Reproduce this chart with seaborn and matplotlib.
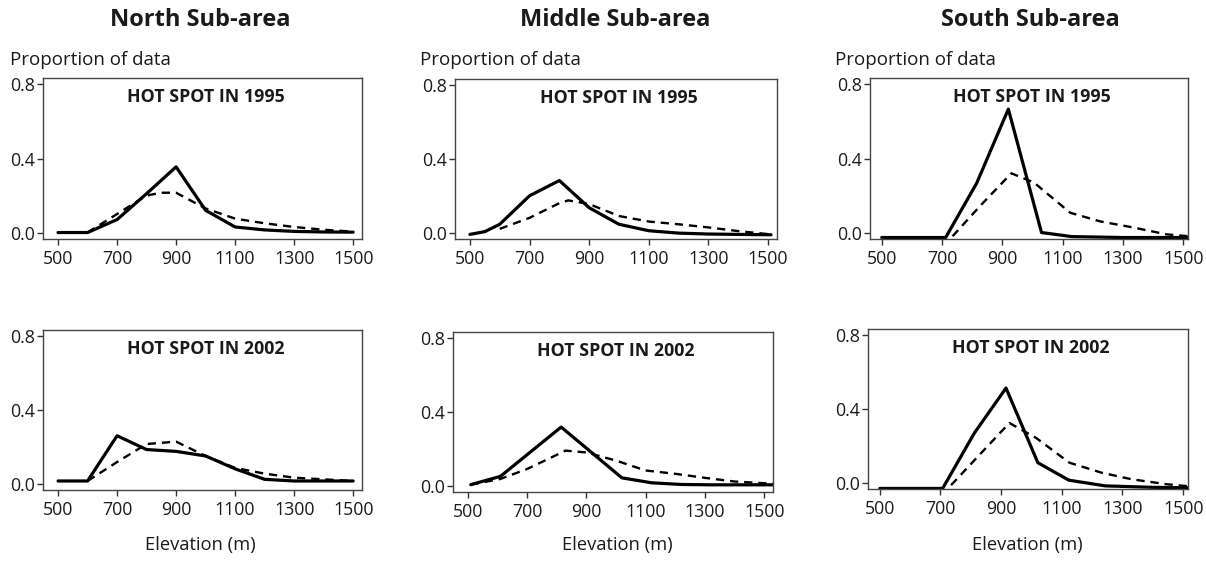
import matplotlib
matplotlib.use('agg')
import matplotlib.pyplot as plt
import seaborn as sns

# column titles and panel labels
areas = ['North Sub-area', 'Middle Sub-area', 'South Sub-area']
years = ['1995', '2002']
y_ticks = [0.0, 0.4, 0.8]
y_tick_labels = ['0.0', '0.4', '0.8']
x_ticks = [500, 700, 900, 1100, 1300, 1500]

# north sub-area (solid = hot spot, dashed = all data)
n95_hot_x = [500, 600, 700, 800, 900, 1000, 1100, 1200, 1300, 1400, 1500]
n95_hot_y = [0.0, 0.0, 0.07, 0.21, 0.355, 0.12, 0.03, 0.014, 0.006, 0.003, 0.002]
n95_all_x = [600, 700, 800, 850, 900, 1000, 1100, 1200, 1300, 1400, 1500]
n95_all_y = [0.0, 0.10, 0.20, 0.215, 0.215, 0.13, 0.075, 0.05, 0.03, 0.015, 0.005]

n02_hot_x = [500, 600, 700, 800, 900, 1000, 1100, 1200, 1300, 1400, 1500]
n02_hot_y = [0.014, 0.014, 0.26, 0.185, 0.175, 0.15, 0.08, 0.023, 0.014, 0.014, 0.014]
n02_all_x = [600, 700, 800, 900, 1000, 1100, 1200, 1300, 1400, 1500]
n02_all_y = [0.014, 0.117, 0.215, 0.228, 0.15, 0.085, 0.054, 0.032, 0.023, 0.014]

# middle sub-area
m95_hot_x = [500, 550, 600, 700, 800, 900, 1000, 1100, 1200, 1300, 1400, 1510]
m95_hot_y = [-0.01, 0.005, 0.045, 0.20, 0.283, 0.135, 0.045, 0.01, -0.003, -0.008, -0.01, -0.012]
m95_all_x = [600, 700, 800, 830, 900, 1000, 1100, 1200, 1300, 1400, 1510]
m95_all_y = [0.02, 0.08, 0.16, 0.175, 0.155, 0.09, 0.06, 0.045, 0.028, 0.008, -0.01]

m02_hot_x = [510, 610, 815, 1020, 1120, 1220, 1320, 1420, 1530]
m02_hot_y = [0.005, 0.05, 0.318, 0.042, 0.015, 0.006, 0.004, 0.004, 0.004]
m02_all_x = [510, 610, 700, 830, 900, 1000, 1100, 1200, 1300, 1400, 1530]
m02_all_y = [0.005, 0.036, 0.09, 0.19, 0.18, 0.136, 0.082, 0.064, 0.042, 0.022, 0.01]

# south sub-area
s95_hot_x = [500, 712, 815, 920, 1030, 1130, 1300, 1520]
s95_hot_y = [-0.027, -0.027, 0.267, 0.667, 0.0, -0.022, -0.027, -0.027]
s95_all_x = [735, 830, 930, 1005, 1125, 1225, 1335, 1445, 1520]
s95_all_y = [-0.02, 0.15, 0.32, 0.27, 0.107, 0.06, 0.027, -0.01, -0.02]

s02_hot_x = [500, 707, 812, 916, 1021, 1123, 1243, 1400, 1530]
s02_hot_y = [-0.032, -0.032, 0.27, 0.514, 0.108, 0.013, -0.018, -0.026, -0.029]
s02_all_x = [735, 927, 1015, 1125, 1230, 1330, 1445, 1530]
s02_all_y = [-0.014, 0.324, 0.243, 0.108, 0.054, 0.018, -0.009, -0.022]

series = {
    (0, 0): (n95_hot_x, n95_hot_y, n95_all_x, n95_all_y),
    (0, 1): (m95_hot_x, m95_hot_y, m95_all_x, m95_all_y),
    (0, 2): (s95_hot_x, s95_hot_y, s95_all_x, s95_all_y),
    (1, 0): (n02_hot_x, n02_hot_y, n02_all_x, n02_all_y),
    (1, 1): (m02_hot_x, m02_hot_y, m02_all_x, m02_all_y),
    (1, 2): (s02_hot_x, s02_hot_y, s02_all_x, s02_all_y),
}

sns.set_style('ticks')
plt.rcParams['font.family'] = ['Open Sans', 'DejaVu Sans']
ink = '#1a1a1a'

fig = plt.figure(figsize=(12.06, 5.61), dpi=100)
W, H = 1206.0, 561.0

# axes boxes in pixels: left, right, top, bottom
boxes = {
    (0, 0): (43, 362, 78, 239),
    (0, 1): (455, 777, 79, 239),
    (0, 2): (870, 1188, 78, 239),
    (1, 0): (43, 362, 330, 490),
    (1, 1): (453, 773, 332, 492),
    (1, 2): (868, 1188, 329, 489),
}
xlims = [(449, 1530), (450, 1530), (461, 1516)]

for (r, c), (l, rt, t, b) in boxes.items():
    ax = fig.add_axes([l / W, 1 - b / H, (rt - l) / W, (b - t) / H])
    hx, hy, ax_x, ax_y = series[(r, c)]
    sns.lineplot(x=hx, y=hy, ax=ax, color='black', linewidth=2.3, estimator=None)
    sns.lineplot(x=ax_x, y=ax_y, ax=ax, color='black', linewidth=1.7,
                 linestyle=(0, (3.5, 2.5)), estimator=None)
    ax.set_xlim(*xlims[c])
    ax.set_ylim(-0.035, 0.835)
    ax.set_xticks(x_ticks)
    ax.set_yticks(y_ticks)
    ax.set_yticklabels(y_tick_labels)
    ax.tick_params(labelsize=12.8, length=4, width=1, colors='#333333', labelcolor=ink)
    ax.tick_params(axis='x', pad=4)
    ax.tick_params(axis='y', pad=2)
    for sp in ax.spines.values():
        sp.set_visible(True)
        sp.set_color('#444444')
        sp.set_linewidth(1.0)
    ax.text(0.51, 0.88, 'HOT SPOT IN ' + years[r], transform=ax.transAxes,
            ha='center', va='center', fontsize=12.8, fontweight='bold', color=ink)

title_x = [200, 615, 1030]
prop_x = [10, 420, 835]
elev_x = [200, 617, 1027]
for c in range(3):
    fig.text(title_x[c] / W, 1 - 20 / H, areas[c], ha='center', va='center',
             fontsize=17, fontweight='bold', color=ink)
    fig.text(prop_x[c] / W, 1 - 60 / H, 'Proportion of data', ha='left', va='center',
             fontsize=13.5, color=ink)
    fig.text(elev_x[c] / W, 1 - 545 / H, 'Elevation (m)', ha='center', va='center',
             fontsize=13.2, color=ink)

plt.savefig('out.png', dpi=100)
